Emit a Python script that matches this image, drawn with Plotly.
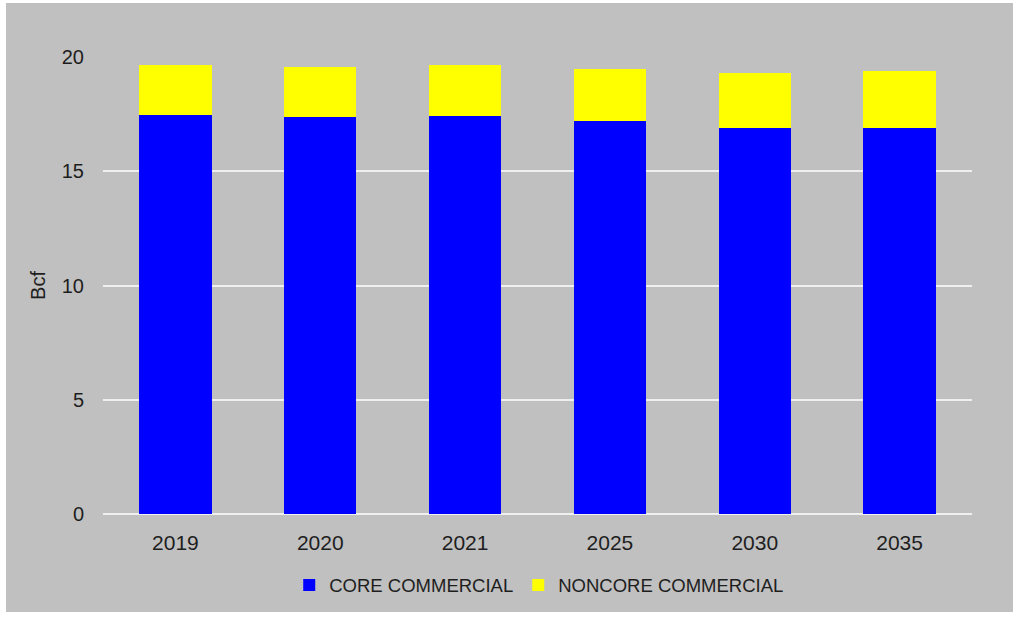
import plotly.graph_objects as go

years = ["2019", "2020", "2021", "2025", "2030", "2035"]
core_commercial = [17.45, 17.36, 17.43, 17.20, 16.91, 16.91]
noncore_commercial = [2.20, 2.22, 2.23, 2.27, 2.40, 2.48]
y_ticks = [0, 5, 10, 15, 20]

W, H = 1013, 618
L, R, T, B = 103, 41, 57, 104

fig = go.Figure()
fig.add_trace(go.Bar(x=years, y=core_commercial, name="CORE COMMERCIAL",
                     marker=dict(color="#0000ff", line=dict(width=0))))
fig.add_trace(go.Bar(x=years, y=noncore_commercial, name="NONCORE COMMERCIAL",
                     marker=dict(color="#ffff00", line=dict(width=0))))

font = dict(family="Liberation Sans, Arial, sans-serif", color="#1e1e1e")

fig.update_layout(
    width=W, height=H,
    barmode="stack", bargap=0.5,
    paper_bgcolor="#c0c0c0", plot_bgcolor="#c0c0c0",
    margin=dict(l=L, r=R, t=T, b=B, pad=0, autoexpand=False),
    font=dict(size=20, **font),
    showlegend=True,
    legend=dict(orientation="h", x=0.502, xanchor="center", y=-0.115, yanchor="top",
                font=dict(size=18.5, **font), traceorder="normal",
                bgcolor="rgba(0,0,0,0)", itemsizing="constant"),
    xaxis=dict(showgrid=False, showline=False, zeroline=False, ticks="",
               tickfont=dict(size=21, **font), ticklabelstandoff=14),
    yaxis=dict(range=[0, 20], tickvals=y_ticks, showgrid=True,
               gridcolor="#efefef", gridwidth=2, zeroline=True,
               zerolinecolor="#efefef", zerolinewidth=2, showline=False,
               ticks="", tickfont=dict(size=20, **font), ticklabelstandoff=18,
               title=dict(text="Bcf", font=dict(size=20, **font), standoff=10)),
)

# white strips at the image edges (left, top, bottom)
def px_x(p):
    return (p - L) / (W - L - R)

def px_y(p):
    return (H - B - p) / (H - T - B)

for x0, x1, y0, y1 in [(0, 6, 0, H), (0, W, 0, 3), (0, W, 612, H)]:
    fig.add_shape(type="rect", xref="paper", yref="paper",
                  x0=px_x(x0), x1=px_x(x1), y0=px_y(y1), y1=px_y(y0),
                  fillcolor="white", line=dict(width=0), layer="above")

fig.write_html("out.html")
